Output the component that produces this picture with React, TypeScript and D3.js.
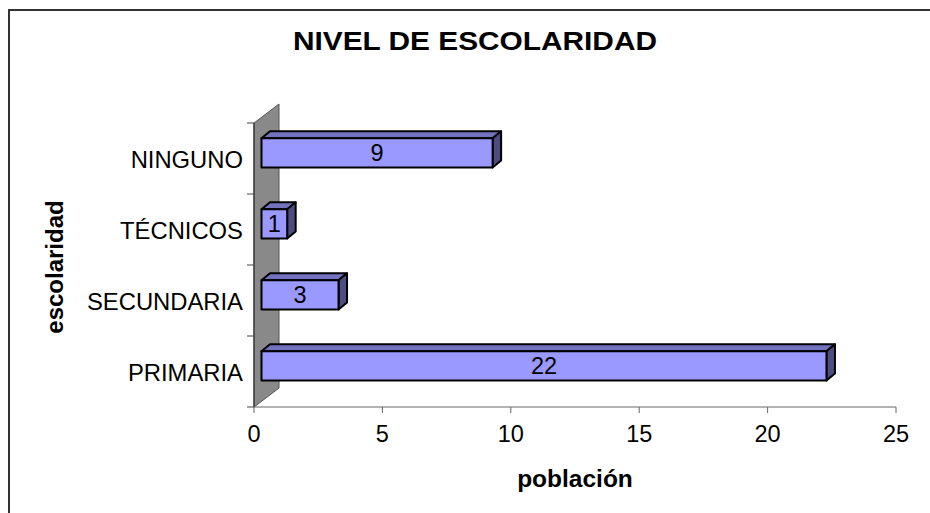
import React from "react";
import * as d3 from "d3";

const categories = ["NINGUNO", "TÉCNICOS", "SECUNDARIA", "PRIMARIA"];
const values = [9, 1, 3, 22];
const xTicks = [0, 5, 10, 15, 20, 25];
const title = "NIVEL DE ESCOLARIDAD";
const xTitle = "población";
const yTitle = "escolaridad";

const W = 930;
const H = 513;
const FONT = "Arial, 'Liberation Sans', Helvetica, sans-serif";

export default function App() {
  const x = d3.scaleLinear().domain([0, 25]).range([254, 896]);
  const yAxis = d3.scaleBand<string>().domain(categories).range([123, 407]);
  const y = d3
    .scaleBand<string>()
    .domain(categories)
    .range([123, 407])
    .paddingInner(0.59)
    .paddingOuter(0.295);

  const wallDx = 25;
  const wallDy = -19;
  const offDx = 7.5;
  const offDy = -5.6;
  const dDx = 8.5;
  const dDy = -7;

  const x0 = x(0);
  const [yTop, yBot] = yAxis.range();
  const bounds = categories.map((c) => yAxis(c) as number).concat([yBot]);

  return (
    <svg
      width={W}
      height={H}
      style={{ position: "absolute", left: 0, top: 0, background: "#fff" }}
    >
      {/* outer chart border */}
      <path d={`M9,${H + 5} L9,10 L${W + 5},10`} fill="none" stroke="#333" strokeWidth={2} />

      {/* title */}
      <text
        x={475}
        y={50}
        textAnchor="middle"
        fontFamily={FONT}
        fontWeight="bold"
        fontSize={25}
        textLength={364}
        lengthAdjust="spacingAndGlyphs"
      >
        {title}
      </text>

      {/* back wall */}
      <polygon
        points={`${x0},${yTop} ${x0 + wallDx},${yTop + wallDy} ${x0 + wallDx},${yBot + wallDy} ${x0},${yBot}`}
        fill="#898989"
        stroke="#555"
        strokeWidth={1}
      />
      {/* category axis line */}
      <line x1={x0} x2={x0} y1={yTop} y2={yBot} stroke="#444" strokeWidth={1.5} />
      {bounds.map((b, i) => (
        <line key={i} x1={x0 - 7} x2={x0} y1={b} y2={b} stroke="#444" strokeWidth={1} />
      ))}

      {/* value axis */}
      <line x1={x0} x2={x(25)} y1={yBot} y2={yBot} stroke="#666" strokeWidth={1} />
      {xTicks.map((t) => (
        <g key={t}>
          <line x1={x(t)} x2={x(t)} y1={yBot} y2={yBot + 6} stroke="#666" strokeWidth={1} />
          <text
            x={x(t)}
            y={442}
            textAnchor="middle"
            fontFamily={FONT}
            fontSize={23.5}
          >
            {t}
          </text>
        </g>
      ))}

      {/* category labels */}
      {categories.map((c) => (
        <text
          key={c}
          x={243}
          y={(yAxis(c) as number) + yAxis.bandwidth() / 2 + 9}
          textAnchor="end"
          fontFamily={FONT}
          fontSize={23.8}
        >
          {c}
        </text>
      ))}

      {/* bars */}
      {categories.map((c, i) => {
        const v = values[i];
        const fx0 = x0 + offDx;
        const fx1 = x(v) + offDx;
        const fy0 = (y(c) as number) + offDy;
        const fy1 = fy0 + y.bandwidth();
        return (
          <g key={c} stroke="#000" strokeWidth={2} strokeLinejoin="round">
            <polygon
              points={`${fx0},${fy0} ${fx0 + dDx},${fy0 + dDy} ${fx1 + dDx},${fy0 + dDy} ${fx1},${fy0}`}
              fill="#7272BF"
            />
            <polygon
              points={`${fx1},${fy0} ${fx1 + dDx},${fy0 + dDy} ${fx1 + dDx},${fy1 + dDy} ${fx1},${fy1}`}
              fill="#4C4C80"
            />
            <rect x={fx0} y={fy0} width={fx1 - fx0} height={fy1 - fy0} fill="#9999FF" />
            <text
              x={(fx0 + fx1) / 2}
              y={(fy0 + fy1) / 2 + 8.5}
              textAnchor="middle"
              fontFamily={FONT}
              fontSize={23.5}
              stroke="none"
              fill="#000"
            >
              {v}
            </text>
          </g>
        );
      })}

      {/* axis titles */}
      <text
        x={575}
        y={487}
        textAnchor="middle"
        fontFamily={FONT}
        fontWeight="bold"
        fontSize={24.5}
      >
        {xTitle}
      </text>
      <text
        transform={`translate(63,267) rotate(-90)`}
        textAnchor="middle"
        fontFamily={FONT}
        fontWeight="bold"
        fontSize={24}
      >
        {yTitle}
      </text>
    </svg>
  );
}
